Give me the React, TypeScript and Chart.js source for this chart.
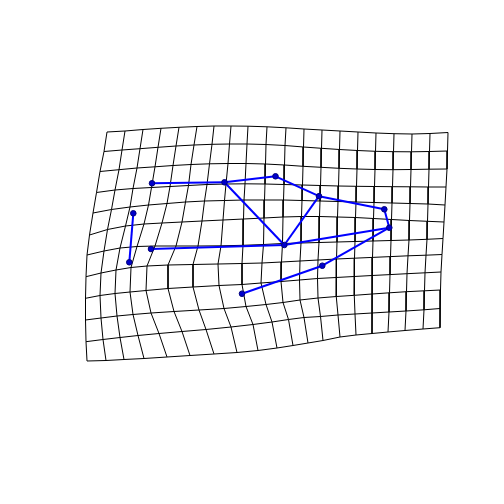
import React, { useEffect, useRef } from "react";
import { Chart, registerables } from "chart.js";

Chart.register(...registerables);

// Deformation grid: node x positions, one array per grid row (top to bottom), 20 columns
const gridX: number[][] = [
  [107, 125, 143, 161, 179, 197, 214, 231, 248, 267, 286, 304, 322, 340, 358, 376, 394, 412, 430, 448],
  [104, 122, 140, 158, 176, 194, 212, 229.5, 247, 266, 285, 303.5, 321.5, 339.5, 357.5, 375.5, 393.5, 411.5, 429.5, 447.5],
  [100, 119, 137, 155, 173, 191, 209.5, 228, 246, 265.5, 284.5, 303, 321, 339, 357, 375, 393, 411, 429, 447],
  [96.5, 115, 133, 151.5, 170, 188.5, 207, 226, 245, 265, 284, 302.5, 320.5, 338.5, 356.5, 374.5, 392.5, 410.5, 428.5, 446],
  [93, 111.5, 130, 148.5, 167, 185.5, 204.5, 224.5, 244, 264.5, 283.5, 302, 320, 338, 356, 374, 392, 410, 428, 445],
  [89.5, 107.5, 125.5, 144, 162, 182, 202, 223, 243.5, 264, 283, 301.5, 319.5, 337.5, 355.5, 373.5, 391.5, 409.5, 427.5, 444],
  [87, 104, 120, 137, 155, 176, 198, 221, 243, 263.5, 282.5, 301, 319, 337, 355, 373, 391, 409, 427, 443],
  [86, 101, 116, 131, 147, 168, 193, 218, 242, 262, 281.5, 300, 318, 336.5, 354.5, 372.5, 390.5, 408, 426, 442],
  [85.5, 100, 115, 130, 146, 168, 193, 219, 242, 261, 281, 299.5, 317.5, 336, 354, 372, 390, 407, 425, 441],
  [85.5, 101, 117, 133, 151, 174, 199, 224, 246, 266, 283, 300, 318, 336.5, 354.5, 372, 389.5, 406.5, 424.5, 440.5],
  [86, 103, 120, 138, 159, 182, 206, 231, 253, 272, 288.5, 304, 320.5, 338, 355, 372, 389, 406, 424, 440],
  [87, 106, 124, 144, 167, 190, 214, 237, 258, 277, 293, 308, 323, 340, 356, 372, 388, 405, 423, 440],
];

// Deformation grid: node y positions, same layout
const gridY: number[][] = [
  [132, 131, 129.5, 128.3, 127.3, 126.5, 126, 126, 126.2, 126.8, 127.8, 129, 130, 131, 132, 133, 133.7, 134, 133.5, 132.5],
  [151.5, 150, 148.7, 147.3, 146, 145, 144.3, 144, 144, 144.5, 145.5, 147, 148.3, 149.5, 150.5, 151.3, 151.7, 151.8, 151.5, 151],
  [171.5, 169.7, 168, 166.8, 165.5, 164.5, 163.8, 163.5, 163.5, 164, 165, 166.3, 167.3, 168.3, 169, 169.5, 169.7, 169.5, 169.2, 169],
  [192.5, 190, 188.5, 187.5, 186.5, 185.5, 184.5, 184, 183.8, 184, 184.5, 185, 185.5, 186, 186.3, 186.5, 186.7, 186.8, 187, 187],
  [213, 209.5, 207, 205, 203.5, 202, 201, 200.5, 200, 200, 200, 200.5, 201, 201.5, 202, 202.5, 203, 203.5, 204, 205],
  [235, 229.5, 226, 224, 223, 222, 221, 220, 219, 218, 217, 216.5, 216.5, 217, 217.5, 218.5, 219.5, 220.5, 221.3, 222],
  [255, 251, 248, 246.5, 246, 246, 246, 245.8, 245.3, 244.5, 243.5, 243, 242.5, 242, 241.5, 241, 240.5, 240, 239.3, 238.5],
  [276.7, 273, 270, 267.5, 266, 265, 264.5, 264, 263.5, 263, 262, 261, 260, 259, 258.2, 257.4, 256.6, 255.8, 255.2, 254.5],
  [298.3, 295.5, 293.5, 292, 290.5, 288.5, 287, 285.5, 284.5, 283, 281.5, 280, 278.5, 277.5, 276.5, 275.5, 274.6, 273.7, 272.8, 272],
  [320, 318, 316, 314.5, 313, 311.5, 310, 308.5, 306.5, 304.5, 302.5, 300, 298, 296.5, 295.3, 294, 292.8, 291.7, 290.8, 290],
  [341.7, 339.5, 337.5, 335.5, 333.5, 331.5, 329.5, 327, 324.5, 322, 319.5, 317.5, 316.5, 315, 314, 313, 312, 311, 309.8, 308.5],
  [361, 360.5, 359.5, 358.5, 357, 355.5, 354, 352.5, 350.5, 348, 345.5, 343, 340.5, 337, 335, 333.5, 332, 330.5, 329, 327.7],
];

// Landmarks (A..L)
const landmarkX = [152, 224.5, 275.5, 319, 384.3, 389.3, 284.3, 151, 133.3, 129.3, 322.3, 242];
const landmarkY = [183.3, 182.3, 176.3, 196.2, 209.3, 227.7, 245, 249, 213.3, 262.3, 265.7, 293.7];

// Links between landmarks
const linkFrom = [0, 1, 2, 3, 4, 1, 6, 7, 6, 5, 10, 8];
const linkTo = [1, 2, 3, 4, 5, 6, 3, 6, 5, 10, 11, 9];

export default function App() {
  const canvasRef = useRef<HTMLCanvasElement | null>(null);

  useEffect(() => {
    if (!canvasRef.current) return;
    const datasets: any[] = [];

    datasets.push({
      label: "landmarks",
      data: landmarkX.map((x, i) => ({ x, y: landmarkY[i] })),
      showLine: false,
      pointRadius: 2.8,
      pointBackgroundColor: "#0000CC",
      pointBorderColor: "#00007A",
      pointBorderWidth: 1,
      order: 0,
    });

    linkFrom.forEach((a, k) => {
      const b = linkTo[k];
      datasets.push({
        label: "link" + k,
        data: [
          { x: landmarkX[a], y: landmarkY[a] },
          { x: landmarkX[b], y: landmarkY[b] },
        ],
        showLine: true,
        borderColor: "#0000FF",
        borderWidth: 2,
        pointRadius: 0,
        order: 1,
      });
    });

    const nRows = gridX.length;
    const nCols = gridX[0].length;
    for (let j = 0; j < nRows; j++) {
      datasets.push({
        label: "row" + j,
        data: gridX[j].map((x, i) => ({ x, y: gridY[j][i] })),
        showLine: true,
        borderColor: "#000000",
        borderWidth: 1,
        pointRadius: 0,
        order: 2,
      });
    }
    for (let i = 0; i < nCols; i++) {
      datasets.push({
        label: "col" + i,
        data: gridX.map((row, j) => ({ x: row[i], y: gridY[j][i] })),
        showLine: true,
        borderColor: "#000000",
        borderWidth: 1,
        pointRadius: 0,
        order: 2,
      });
    }

    const chart = new Chart(canvasRef.current, {
      type: "scatter",
      data: { datasets },
      options: {
        animation: false,
        responsive: false,
        devicePixelRatio: 1,
        layout: { padding: 0, autoPadding: false },
        plugins: { legend: { display: false }, tooltip: { enabled: false } },
        events: [],
        scales: {
          x: { type: "linear", min: 0, max: 504, display: false },
          y: { type: "linear", min: 0, max: 504, reverse: true, display: false },
        },
      } as any,
    });
    return () => chart.destroy();
  }, []);

  return (
    <div style={{ position: "absolute", left: 0, top: 0, width: 504, height: 504, background: "#fff" }}>
      <canvas ref={canvasRef} width={504} height={504} />
    </div>
  );
}
